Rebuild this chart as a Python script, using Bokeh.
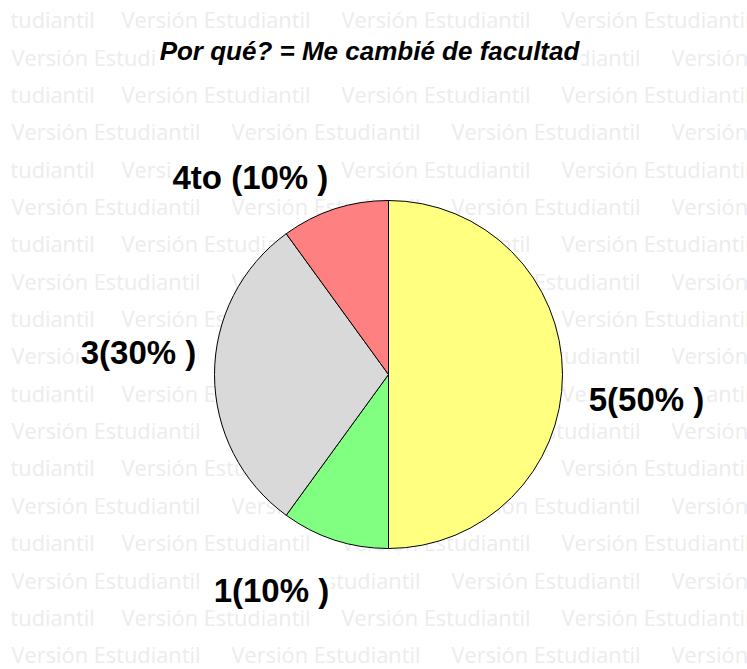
import math
from bokeh.plotting import figure
from bokeh.models import Range1d, ColumnDataSource
from bokeh.core.properties import value
from bokeh.embed import file_html
from bokeh.resources import INLINE

# ---- data ----
categories = ["5", "1", "3", "4to"]
percents = [50, 10, 30, 10]
labels = ["5(50% )", "1(10% )", "3(30% )", "4to (10% )"]
colors = ["#FFFF80", "#80FF80", "#D9D9D9", "#FF8080"]
title_text = "Por qué? = Me cambié de facultad"
watermark_word = "Versión Estudiantil"
watermark_tail = "tudiantil"

# ---- layout (page pixel coords) ----
W, H = 747, 669
def Y(py):
    return H - py

# empirical baseline correction for the svg text rendering
def base_fix(size):
    return 0.4 * size

CX, CY, R = 388, 374, 174
LABEL_R = 230
LABEL_NUDGE = [(28, 38), (-46, 10), (-20, -9), (-67, 35)]
WM_SIZE, LBL_SIZE, TTL_SIZE = 21.8, 33, 26

p = figure(width=W, height=H, output_backend="svg", toolbar_location=None,
           x_range=Range1d(0, W), y_range=Range1d(0, H),
           min_border=0, outline_line_color=None, background_fill_color="white",
           border_fill_color="white")
p.axis.visible = False
p.grid.visible = False

# ---- watermark ----
wx, wy, wt = [], [], []
for k in range(18):
    base = 28 + 37.35 * k - base_fix(WM_SIZE)
    if k % 2 == 0:
        items = [(watermark_tail, 10), (watermark_word, 121), (watermark_word, 341), (watermark_word, 561)]
    else:
        items = [(watermark_word, 11), (watermark_word, 231), (watermark_word, 451), (watermark_word, 671)]
    for t, x in items:
        wx.append(x); wy.append(Y(base)); wt.append(t)
p.text(x=wx, y=wy, text=wt, text_font=value("Open Sans"), text_font_size=f"{WM_SIZE}px",
       text_color="#ECECEC", text_align="left", text_baseline="alphabetic")

# ---- pie ----
total = sum(percents)
starts, ends, mids = [], [], []
cum = 0
for v in percents:
    a0 = 90 - cum / total * 360
    cum += v
    a1 = 90 - cum / total * 360
    starts.append(math.radians(a0)); ends.append(math.radians(a1))
    mids.append(math.radians((a0 + a1) / 2))

src = ColumnDataSource(dict(start=starts, end=ends, color=colors, cat=categories))
p.wedge(x=CX, y=Y(CY), radius=R, start_angle="start", end_angle="end", direction="clock",
        fill_color="color", line_color="black", line_width=1, source=src)

# ---- labels ----
lx, ly = [], []
for m, (dx, dy) in zip(mids, LABEL_NUDGE):
    px = CX + LABEL_R * math.cos(m) + dx
    py = CY - LABEL_R * math.sin(m) + dy - base_fix(LBL_SIZE)
    lx.append(px); ly.append(Y(py))
p.text(x=lx, y=ly, text=labels, text_font=value("Liberation Sans"), text_font_size=f"{LBL_SIZE}px",
       text_font_style="bold", text_color="black", text_align="center",
       text_baseline="alphabetic", background_fill_color="white", padding=2)

# ---- title ----
p.text(x=[369], y=[Y(61 - base_fix(TTL_SIZE))], text=[title_text], text_font=value("Liberation Sans"),
       text_font_size=f"{TTL_SIZE}px", text_font_style="bold italic", text_color="black",
       text_align="center", text_baseline="alphabetic", background_fill_color="white", padding=2)

open("out.html", "w").write(file_html(p, INLINE))
